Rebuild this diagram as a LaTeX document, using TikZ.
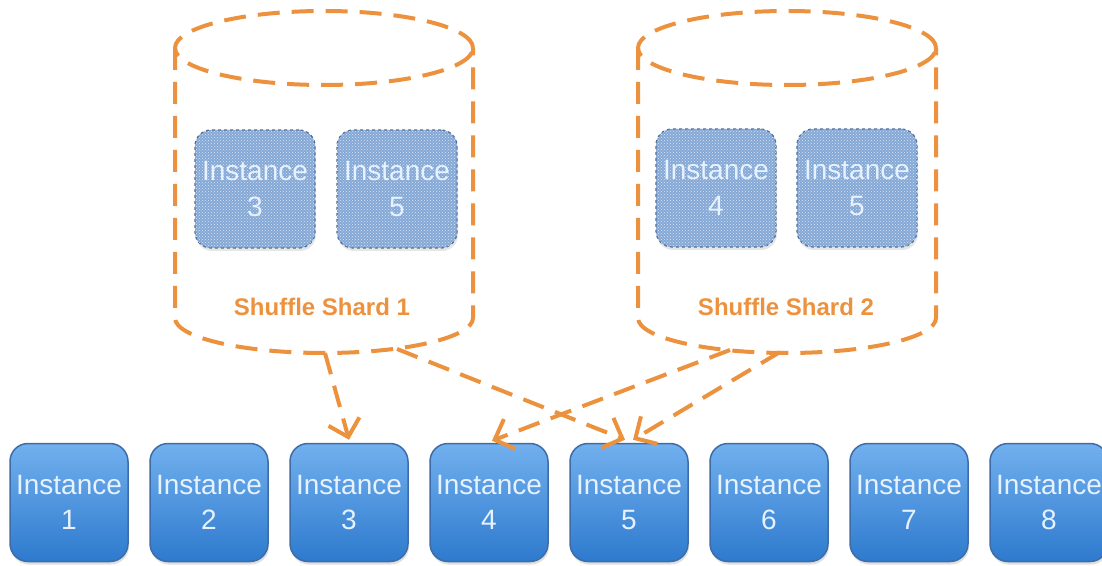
\documentclass[tikz,border=0pt]{standalone}
\usepackage{fontspec}
\setmainfont{Liberation Sans}
\usepackage{xcolor}
\usetikzlibrary{patterns,positioning,arrows.meta,shadows}
\definecolor{shardorange}{RGB}{236,146,62}
\definecolor{boxtop}{RGB}{114,176,238}
\definecolor{boxbot}{RGB}{46,122,206}
\definecolor{boxedge}{RGB}{62,108,168}
\definecolor{innerfill}{RGB}{132,168,214}
\definecolor{inneredge}{RGB}{80,108,148}
\definecolor{labeltext}{RGB}{230,242,255}

\begin{document}
\begin{tikzpicture}[x=1pt, y=1pt,
  instbox/.style={draw=boxedge, line width=1.5pt, rounded corners=18pt,
    top color=boxtop, bottom color=boxbot, minimum width=118pt, minimum height=118pt,
    text=labeltext, align=center, font=\fontsize{28}{35}\selectfont,
    drop shadow={opacity=0.25, shadow xshift=1pt, shadow yshift=-3pt}},
  ghostbox/.style={draw=inneredge, dashed, line width=1.2pt, rounded corners=16pt,
    fill=innerfill, postaction={pattern=crosshatch dots, pattern color=white!70!innerfill},
    minimum width=120pt, minimum height=118pt,
    text=labeltext, align=center, font=\fontsize{28}{36}\selectfont,
    drop shadow={opacity=0.2, shadow xshift=1pt, shadow yshift=-3pt}},
  shardline/.style={draw=shardorange, line width=4pt, dash pattern=on 22pt off 12pt},
  shardarrow/.style={shardline, -{Straight Barb[length=16pt, width=32pt]}},
  shardlabel/.style={text=shardorange, font=\fontsize{24}{28}\selectfont\bfseries}]
\useasboundingbox (0,0) rectangle (1102,565);

% Shuffle shard 1 (cylinder)
\draw[shardline] (324,517) ellipse [x radius=149, y radius=37];
\draw[shardline] (175,517) -- (175,247) arc[start angle=180, end angle=360, x radius=149, y radius=35] -- (473,517);
\node[ghostbox] (sh1a) at (255,376) {Instance\\3};
\node[ghostbox] (sh1b) at (397,376) {Instance\\5};
\node[shardlabel] (lab1) at (322,258) {Shuffle Shard 1};

% Shuffle shard 2 (cylinder)
\draw[shardline] (787,517) ellipse [x radius=149, y radius=37];
\draw[shardline] (638,517) -- (638,247) arc[start angle=180, end angle=360, x radius=149, y radius=35] -- (936,517);
\node[ghostbox] (sh2a) at (716,377) {Instance\\4};
\node[ghostbox] (sh2b) at (857,377) {Instance\\5};
\node[shardlabel] (lab2) at (786,258) {Shuffle Shard 2};

% Instances
\foreach \i in {1,...,8}
  \node[instbox] (inst\i) at ({69+140*(\i-1)},62.5) {Instance\\\i};

% Connectors
\coordinate (s1a) at (325,212);
\coordinate (s1b) at (397,216);
\coordinate (s2a) at (730,215);
\coordinate (s2b) at (780,213);
\draw[shardarrow] (s1a) -- ([yshift=3pt]inst3.north);
\draw[shardarrow] (s1b) -- ([xshift=-4pt, yshift=3pt]inst5.north);
\draw[shardarrow] (s2a) -- ([xshift=3pt, yshift=2pt]inst4.north);
\draw[shardarrow] (s2b) -- ([xshift=4pt, yshift=3pt]inst5.north);

\end{tikzpicture}
\end{document}
